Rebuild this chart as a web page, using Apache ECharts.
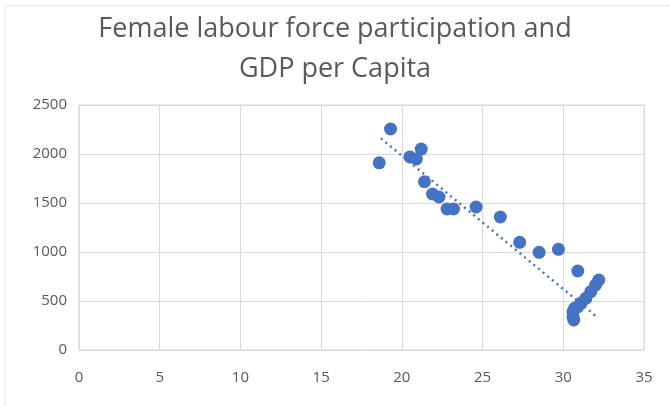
<!DOCTYPE html>
<html><head><meta charset="utf-8">
<script src="https://cdn.jsdelivr.net/npm/echarts@6/dist/echarts.min.js"></script>
<style>html,body{margin:0;padding:0;background:#fff}#c{width:670px;height:406px}</style>
</head><body><div id="c"></div>
<script>
const titleLines = ["Female labour force participation and", "GDP per Capita"];
const femaleLFP = [18.6, 19.3, 20.5, 20.9, 21.2, 21.4, 21.9, 22.3, 22.8, 23.2, 24.6, 26.1, 27.3, 28.5, 29.7, 30.9, 32.2, 32.0, 31.7, 31.4, 31.1, 30.9, 30.7, 30.6, 30.6, 30.65];
const gdpPerCapita = [1910, 2255, 1970, 1950, 2050, 1717, 1592, 1561, 1439, 1439, 1459, 1357, 1099, 997, 1027, 806, 714, 663, 595, 527, 479, 442, 425, 391, 340, 306];
const trendX = [18.7, 32.1];
const trendY = [2160, 335];
const xTicks = [0, 5, 10, 15, 20, 25, 30, 35];
const yTicks = [0, 500, 1000, 1500, 2000, 2500];

const chart = echarts.init(document.getElementById('c'), null, {renderer: 'canvas'});
const grey = '#595959';
const gridCol = '#d9d9d9';
chart.setOption({
  animation: false,
  backgroundColor: '#fff',
  title: {
    text: titleLines.join('\n'),
    left: 'center', top: 4,
    textStyle: {fontFamily: 'Open Sans', fontSize: 27, fontWeight: 'normal', color: grey, lineHeight: 40}
  },
  grid: {left: 79, right: 26, top: 105, bottom: 56, show: true, borderColor: gridCol, borderWidth: 1},
  xAxis: {
    type: 'value', min: xTicks[0], max: xTicks[xTicks.length-1], interval: 5,
    axisLine: {show: false}, axisTick: {show: false},
    axisLabel: {color: grey, fontFamily: 'Open Sans', fontSize: 15, margin: 20},
    splitLine: {show: true, lineStyle: {color: gridCol, width: 1}}
  },
  yAxis: {
    type: 'value', min: yTicks[0], max: yTicks[yTicks.length-1], interval: 500,
    axisLine: {show: false}, axisTick: {show: false},
    axisLabel: {color: grey, fontFamily: 'Open Sans', fontSize: 15, margin: 12, formatter: v => String(v)},
    splitLine: {show: true, lineStyle: {color: gridCol, width: 1}}
  },
  graphic: [{type: 'rect', shape: {x: 5, y: 6, width: 680, height: 420}, style: {fill: 'none', stroke: '#e6e6e6', lineWidth: 1}, silent: true}],
  series: [
    {
      type: 'line',
      data: trendX.map((x, i) => [x, trendY[i]]),
      showSymbol: false, symbol: 'none',
      lineStyle: {color: '#4472C4', width: 2.5, type: [2, 4]},
      z: 3
    },
    {
      type: 'scatter',
      data: femaleLFP.map((x, i) => [x, gdpPerCapita[i]]),
      symbolSize: 13,
      itemStyle: {color: '#4472C4', opacity: 1},
      z: 2
    }
  ]
});
</script></body></html>
